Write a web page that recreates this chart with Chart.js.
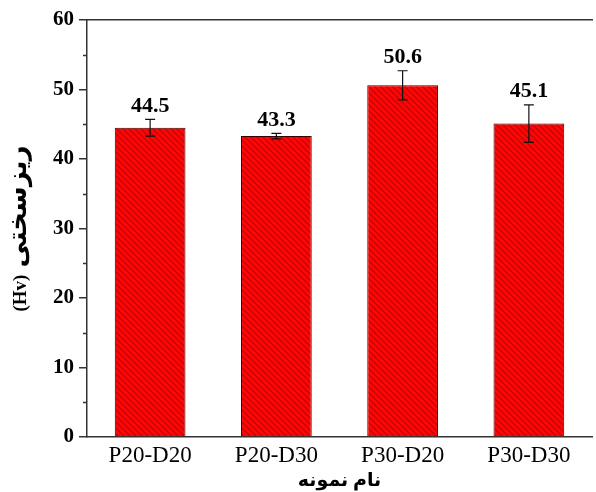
<!DOCTYPE html>
<html>
<head>
<meta charset="utf-8">
<script src="https://cdn.jsdelivr.net/npm/chart.js@4/dist/chart.umd.min.js"></script>
<style>
  html, body { margin: 0; padding: 0; background: #fff; }
  #chart { display: block; }
</style>
</head>
<body>
<canvas id="chart" width="596" height="492"></canvas>
<script>
// data
const categories = ['P20-D20', 'P20-D30', 'P30-D20', 'P30-D30'];
const hardness = [44.5, 43.3, 50.6, 45.1];
const hardnessErr = [1.2, 0.4, 2.1, 2.7];
const yTicks = [0, 10, 20, 30, 40, 50, 60];
const yTitleFa = 'ریزسختی';
const yTitleUnit = '(Hv)';
const xTitle = 'نام نمونه';

const serif = '"Liberation Serif", "Times New Roman", "DejaVu Sans", serif';
const axisColor = '#333';

// red fill with dark diagonal hatching
function makeHatch() {
  const size = 6;
  const c = document.createElement('canvas');
  c.width = size; c.height = size;
  const g = c.getContext('2d');
  g.fillStyle = '#ff0606';
  g.fillRect(0, 0, size, size);
  g.strokeStyle = '#c40000';
  g.lineWidth = 1.1;
  g.beginPath();
  g.moveTo(-1, -1); g.lineTo(size + 1, size + 1);
  g.moveTo(-1, size - 1); g.lineTo(1, size + 1);
  g.moveTo(size - 1, -1); g.lineTo(size + 1, 1);
  g.stroke();
  return g.createPattern(c, 'repeat');
}

const errorBars = {
  id: 'errorBars',
  afterDatasetsDraw(chart) {
    const { ctx, scales: { y }, chartArea } = chart;
    const meta = chart.getDatasetMeta(0);
    ctx.save();
    ctx.strokeStyle = '#111';
    ctx.lineWidth = 1.2;
    meta.data.forEach((bar, i) => {
      const cx = bar.x;
      const top = y.getPixelForValue(hardness[i] + hardnessErr[i]);
      const bot = y.getPixelForValue(hardness[i] - hardnessErr[i]);
      ctx.beginPath();
      ctx.moveTo(cx, top); ctx.lineTo(cx, bot);
      ctx.moveTo(cx - 5, top); ctx.lineTo(cx + 5, top);
      ctx.moveTo(cx - 5, bot); ctx.lineTo(cx + 5, bot);
      ctx.stroke();

      ctx.fillStyle = '#000';
      ctx.font = 'bold 22px ' + serif;
      ctx.textAlign = 'center';
      ctx.textBaseline = 'bottom';
      ctx.fillText(hardness[i].toFixed(1), cx, top - 2);
    });

    // minor ticks half way between the major ones
    ctx.strokeStyle = axisColor;
    ctx.lineWidth = 1.5;
    for (let k = 0; k < yTicks.length - 1; k++) {
      const py = Math.round(y.getPixelForValue((yTicks[k] + yTicks[k + 1]) / 2)) + 0.5;
      ctx.beginPath();
      ctx.moveTo(chartArea.left - 4, py);
      ctx.lineTo(chartArea.left, py);
      ctx.stroke();
    }

    // y title: unit in serif, persian word a bit larger
    const fontUnit = 'bold 19px ' + serif;
    const fontFa = 'bold 26px ' + serif;
    ctx.font = fontUnit;
    const wUnit = ctx.measureText(yTitleUnit).width;
    ctx.font = fontFa;
    const wFa = ctx.measureText(yTitleFa).width;
    const gap = 7;
    const total = wUnit + gap + wFa;
    ctx.translate(21, (chartArea.top + chartArea.bottom) / 2);
    ctx.rotate(-Math.PI / 2);
    ctx.textAlign = 'left';
    ctx.textBaseline = 'middle';
    ctx.fillStyle = '#000';
    ctx.font = fontUnit;
    ctx.fillText(yTitleUnit, -total / 2, 0);
    ctx.font = fontFa;
    ctx.fillText(yTitleFa, -total / 2 + wUnit + gap, -2);
    ctx.restore();
  }
};

new Chart(document.getElementById('chart'), {
  type: 'bar',
  data: {
    labels: categories,
    datasets: [{
      data: hardness,
      backgroundColor: makeHatch(),
      borderColor: '#3a0000',
      borderWidth: 1,
      categoryPercentage: 1,
      barPercentage: 0.56
    }]
  },
  options: {
    responsive: false,
    animation: false,
    layout: { padding: { top: 20, right: 4, left: 0, bottom: 0 } },
    plugins: {
      legend: { display: false },
      tooltip: { enabled: false }
    },
    scales: {
      x: {
        position: 'bottom',
        afterFit(s) { s.height = 55; },
        grid: { drawOnChartArea: false, drawTicks: false },
        border: { color: axisColor, width: 1.5 },
        ticks: { color: '#000', font: { family: serif, size: 23 }, padding: 5 },
        title: {
          display: true,
          text: xTitle,
          color: '#000',
          font: { family: serif, size: 19, weight: 'bold' },
          padding: { top: 0, bottom: 0 }
        }
      },
      xTop: {
        type: 'category',
        position: 'top',
        labels: categories,
        afterFit(s) { s.height = 0; },
        grid: { drawOnChartArea: false, drawTicks: false },
        border: { color: axisColor, width: 1.5 },
        ticks: { display: false }
      },
      y: {
        min: 0,
        max: 60,
        afterFit(s) { s.width = 87; },
        afterBuildTicks(s) { s.ticks = yTicks.map(v => ({ value: v })); },
        grid: { drawOnChartArea: false, tickLength: 8, color: axisColor, lineWidth: 1.5 },
        border: { color: axisColor, width: 1.5 },
        ticks: { color: '#000', font: { family: serif, size: 21, weight: 'bold' }, padding: 5 },
        title: { display: false }
      }
    }
  },
  plugins: [errorBars]
});
</script>
</body>
</html>
